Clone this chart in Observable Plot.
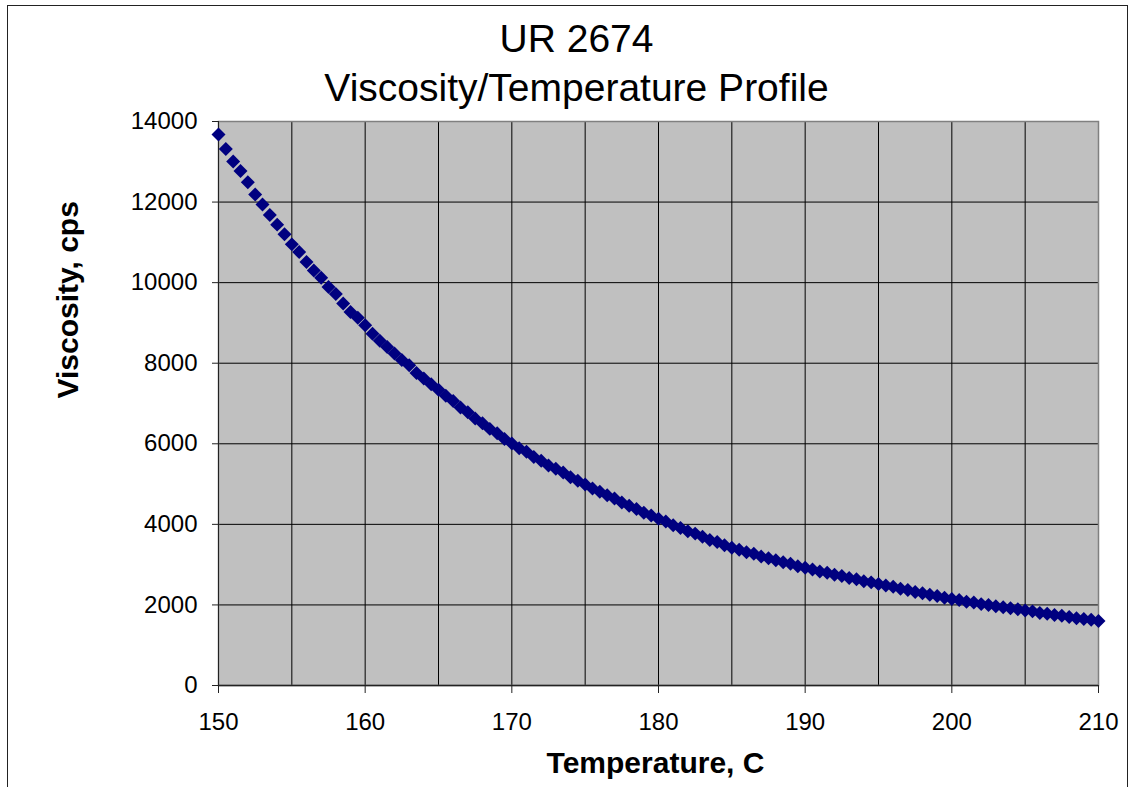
<!DOCTYPE html>
<html>
<head>
<meta charset="utf-8">
<script src="https://cdn.jsdelivr.net/npm/d3@7"></script>
<script src="https://cdn.jsdelivr.net/npm/@observablehq/plot@0.6"></script>
<style>
  html, body { margin: 0; padding: 0; background: #fff; overflow: hidden; }
  #wrap { position: relative; width: 1129px; height: 787px; }
  #border { position: absolute; left: 7px; top: 5px; width: 1119px; height: 820px; border: 1px solid #222; pointer-events: none; }
  #chart { position: absolute; left: 0; top: 0; }
</style>
</head>
<body>
<div id="wrap"><div id="chart"></div><div id="border"></div></div>
<script>
const titleLines = ["UR 2674", "Viscosity/Temperature Profile"];
const xLabel = "Temperature, C";
const yLabel = "Viscosity, cps";

const temperature = [
  150, 150.5, 151, 151.5, 152, 152.5, 153, 153.5, 154, 154.5, 155,
  155.5, 156, 156.5, 157, 157.5, 158, 158.5, 159, 159.5, 160,
  160.5, 161, 161.5, 162, 162.5, 163, 163.5, 164, 164.5, 165,
  165.5, 166, 166.5, 167, 167.5, 168, 168.5, 169, 169.5, 170,
  170.5, 171, 171.5, 172, 172.5, 173, 173.5, 174, 174.5, 175,
  175.5, 176, 176.5, 177, 177.5, 178, 178.5, 179, 179.5, 180,
  180.5, 181, 181.5, 182, 182.5, 183, 183.5, 184, 184.5, 185,
  185.5, 186, 186.5, 187, 187.5, 188, 188.5, 189, 189.5, 190,
  190.5, 191, 191.5, 192, 192.5, 193, 193.5, 194, 194.5, 195,
  195.5, 196, 196.5, 197, 197.5, 198, 198.5, 199, 199.5, 200,
  200.5, 201, 201.5, 202, 202.5, 203, 203.5, 204, 204.5, 205,
  205.5, 206, 206.5, 207, 207.5, 208, 208.5, 209, 209.5, 210
];

const viscosity = [
  13680, 13320, 13010, 12770, 12490, 12190, 11940, 11680, 11440, 11200, 10950,
  10760, 10510, 10300, 10120, 9890, 9720, 9480, 9270, 9130, 8940,
  8730, 8560, 8400, 8240, 8080, 7950, 7760, 7620, 7480, 7340,
  7190, 7060, 6900, 6780, 6630, 6510, 6370, 6260, 6120, 6010,
  5890, 5800, 5670, 5580, 5460, 5380, 5290, 5170, 5080, 4990,
  4890, 4810, 4720, 4640, 4540, 4460, 4380, 4290, 4220, 4140,
  4070, 3980, 3910, 3830, 3770, 3690, 3610, 3560, 3480, 3420,
  3370, 3310, 3270, 3200, 3160, 3110, 3060, 3020, 2960, 2920,
  2880, 2830, 2800, 2750, 2720, 2670, 2640, 2590, 2560, 2520,
  2480, 2450, 2400, 2370, 2320, 2290, 2250, 2220, 2180, 2150,
  2120, 2080, 2060, 2020, 2000, 1970, 1940, 1920, 1890, 1860,
  1840, 1800, 1780, 1750, 1730, 1700, 1670, 1650, 1630, 1600
];

const xTicks = [150, 160, 170, 180, 190, 200, 210];
const xGrid = [155, 160, 165, 170, 175, 180, 185, 190, 195, 200, 205];
const yTicks = [0, 2000, 4000, 6000, 8000, 10000, 12000, 14000];
const yGrid = [2000, 4000, 6000, 8000, 10000, 12000];

const data = temperature.map((t, i) => ({t, v: viscosity[i]}));
const font = "'Liberation Sans', Arial, Helvetica, sans-serif";

const chart = Plot.plot({
  width: 1129,
  height: 787,
  marginLeft: 218,
  marginRight: 31,
  marginTop: 121,
  marginBottom: 102,
  style: {fontFamily: font, fontSize: "24px", color: "#000", background: "transparent"},
  x: {domain: [150, 210]},
  y: {domain: [0, 14000]},
  marks: [
    Plot.frame({fill: "#c0c0c0"}),
    Plot.gridX(xGrid, {stroke: "#000", strokeOpacity: 1, strokeWidth: 1}),
    Plot.gridY(yGrid, {stroke: "#000", strokeOpacity: 1, strokeWidth: 1}),
    Plot.frame({stroke: "#808080", strokeWidth: 1.5}),
    Plot.ruleX([150], {stroke: "#222", strokeWidth: 1}),
    Plot.ruleY([0], {stroke: "#222", strokeWidth: 1.5}),
    Plot.axisX({ticks: xTicks, tickSize: 8, tickPadding: 19, label: null, stroke: "#222", fontSize: 24}),
    Plot.axisY({ticks: yTicks, tickSize: 6, tickPadding: 15, label: null, stroke: "#222", fontSize: 24, tickFormat: d => String(d)}),
    Plot.dot(data, {x: "t", y: "v", symbol: "diamond2", r: 6.3, fill: "#000080", stroke: "none"}),
    Plot.text([titleLines[0]], {frameAnchor: "top", dx: -82, dy: -82, fontSize: 39, lineAnchor: "middle", fill: "#000"}),
    Plot.text([titleLines[1]], {frameAnchor: "top", dx: -82, dy: -33, fontSize: 39, lineAnchor: "middle", fill: "#000"}),
    Plot.text([yLabel], {frameAnchor: "left", dx: -150, dy: -5, rotate: -90, fontSize: 30, fontWeight: "bold", lineAnchor: "middle", fill: "#000"}),
    Plot.text([xLabel], {frameAnchor: "bottom", dx: -3, dy: 78, fontSize: 30, fontWeight: "bold", lineAnchor: "middle", fill: "#000"})
  ]
});
document.getElementById("chart").appendChild(chart);
</script>
</body>
</html>
